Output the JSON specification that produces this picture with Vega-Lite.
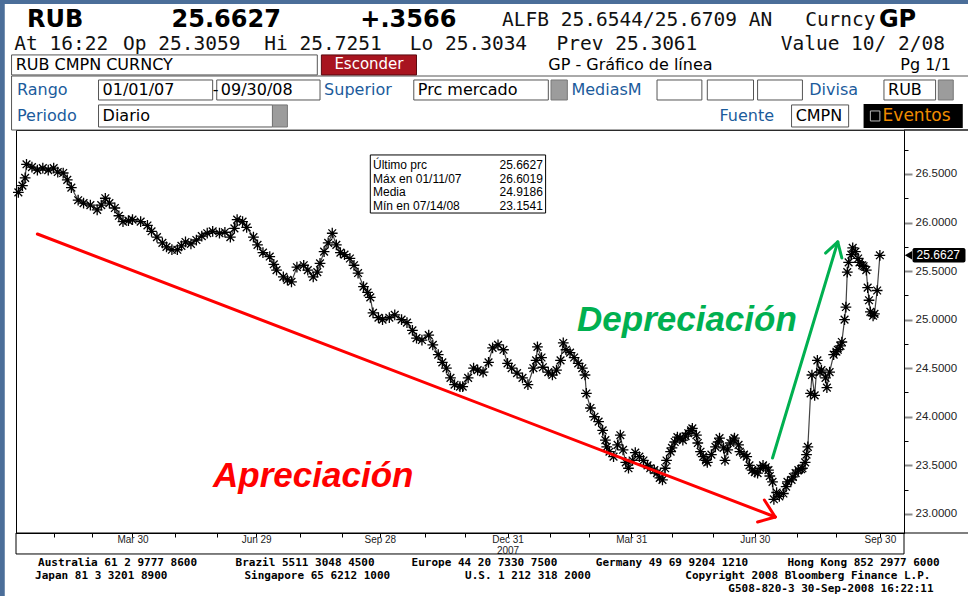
{
  "$schema": "https://vega.github.io/schema/vega-lite/v6.json",
  "width": 888,
  "height": 403,
  "autosize": {"type": "none"},
  "padding": {"left": 16, "top": 130, "right": 64, "bottom": 63},
  "background": "#ffffff",
  "config": {
    "view": {"stroke": "#000000", "strokeWidth": 1},
    "axis": {"zindex": 1}
  },
  "encoding": {
    "x": {
      "field": "d", "type": "temporal",
      "scale": {"type": "utc", "domain": [
        {"year": 2007, "month": 1, "date": 3, "hours": 6, "minutes": 30, "utc": true},
        {"year": 2008, "month": 10, "date": 17, "hours": 18, "utc": true}]},
      "axis": {
        "title": null,
        "values": [
          {"year": 2007, "month": 1, "date": 31, "utc": true},
          {"year": 2007, "month": 2, "date": 28, "utc": true},
          {"year": 2007, "month": 3, "date": 30, "utc": true},
          {"year": 2007, "month": 4, "date": 30, "utc": true},
          {"year": 2007, "month": 5, "date": 31, "utc": true},
          {"year": 2007, "month": 6, "date": 29, "utc": true},
          {"year": 2007, "month": 7, "date": 31, "utc": true},
          {"year": 2007, "month": 8, "date": 31, "utc": true},
          {"year": 2007, "month": 9, "date": 28, "utc": true},
          {"year": 2007, "month": 10, "date": 31, "utc": true},
          {"year": 2007, "month": 11, "date": 30, "utc": true},
          {"year": 2007, "month": 12, "date": 31, "utc": true},
          {"year": 2008, "month": 1, "date": 31, "utc": true},
          {"year": 2008, "month": 2, "date": 29, "utc": true},
          {"year": 2008, "month": 3, "date": 31, "utc": true},
          {"year": 2008, "month": 4, "date": 30, "utc": true},
          {"year": 2008, "month": 5, "date": 30, "utc": true},
          {"year": 2008, "month": 6, "date": 30, "utc": true},
          {"year": 2008, "month": 7, "date": 31, "utc": true},
          {"year": 2008, "month": 8, "date": 29, "utc": true},
          {"year": 2008, "month": 9, "date": 30, "utc": true}
        ],
        "labelExpr": "utcFormat(datum.value,'%m%d')=='1231' ? ['Dec 31','2007'] : (indexof(['0330','0629','0928','0331','0630','0930'], utcFormat(datum.value,'%m%d')) >= 0 ? utcFormat(datum.value,'%b %d') : '')",
        "tickSize": 4, "tickColor": "#000000", "tickWidth": 1,
        "domainColor": "#000000", "domainWidth": 1,
        "labelFont": "Liberation Sans", "labelFontSize": 10, "labelColor": "#222222",
        "labelPadding": -3, "labelOverlap": false, "labelFlush": false, "labelBound": false,
        "labelBaseline": "top", "labelLineHeight": 11.3, "grid": false
      }
    },
    "y": {
      "field": "v", "type": "quantitative",
      "scale": {"domain": [22.803, 26.953], "zero": false, "nice": false},
      "axis": {
        "title": null, "orient": "right",
        "values": [23, 23.25, 23.5, 23.75, 24, 24.25, 24.5, 24.75, 25, 25.25, 25.5, 25.75, 26, 26.25, 26.5, 26.75],
        "labelExpr": "datum.value*2 == round(datum.value*2) ? format(datum.value, '.4f') : ''",
        "tickSize": {"condition": {"test": "datum.value*2 != round(datum.value*2)", "value": 4}, "value": 8},
        "tickColor": {"condition": {"test": "datum.value*2 != round(datum.value*2)", "value": "#000000"}, "value": "#8a8a8a"},
        "tickWidth": {"condition": {"test": "datum.value*2 != round(datum.value*2)", "value": 1}, "value": 2},
        "domainColor": "#000000", "domainWidth": 1,
        "labelFont": "Liberation Sans", "labelFontSize": 11.5, "labelColor": "#222222",
        "labelPadding": 3, "labelOverlap": false, "labelFlush": false, "labelBound": false, "grid": false
      }
    }
  },
  "layer": [
    {
      "data": {"values": [
        {"d": "2006-11-01", "d2": "2006-12-26", "v": 31, "v2": 20},
        {"d": "2006-11-01", "d2": "2009-02-01", "v": 31, "v2": 28.251}
      ], "format": {"parse": {"d": "date", "d2": "date"}}},
      "mark": {"type": "rect", "color": "#4b6e99"},
      "encoding": {"x2": {"field": "d2"}, "y2": {"field": "v2"}}
    },
    {
      "data": {"values": [
        {"d": "2006-12-31", "d2": "2009-01-31", "v": 27.509, "v2": 26.953},
        {"d": "2006-12-31", "d2": "2007-08-13", "v": 27.726, "v2": 27.52},
        {"d": "2007-03-05", "d2": "2007-05-28", "v": 27.468, "v2": 27.262},
        {"d": "2007-05-31", "d2": "2007-08-15", "v": 27.468, "v2": 27.262},
        {"d": "2007-10-23", "d2": "2008-01-30", "v": 27.468, "v2": 27.262},
        {"d": "2008-04-19", "d2": "2008-05-22", "v": 27.468, "v2": 27.262},
        {"d": "2008-05-26", "d2": "2008-06-29", "v": 27.468, "v2": 27.262},
        {"d": "2008-07-02", "d2": "2008-08-04", "v": 27.468, "v2": 27.262},
        {"d": "2008-10-03", "d2": "2008-11-10", "v": 27.468, "v2": 27.262},
        {"d": "2007-03-05", "d2": "2007-07-11", "v": 27.211, "v2": 26.984},
        {"d": "2008-07-27", "d2": "2008-09-07", "v": 27.211, "v2": 26.984}
      ], "format": {"parse": {"d": "date", "d2": "date"}}},
      "mark": {"type": "rect", "fill": "#ffffff", "stroke": "#555555", "strokeWidth": 1},
      "encoding": {"x2": {"field": "d2"}, "y2": {"field": "v2"}}
    },
    {
      "data": {"values": [
        {"d": "2008-02-01", "d2": "2008-02-13", "v": 27.468, "v2": 27.262},
        {"d": "2008-11-12", "d2": "2008-11-23", "v": 27.468, "v2": 27.262},
        {"d": "2007-07-11", "d2": "2007-07-22", "v": 27.211, "v2": 26.984}
      ], "format": {"parse": {"d": "date", "d2": "date"}}},
      "mark": {"type": "rect", "fill": "#9c9c9c", "stroke": "#777777", "strokeWidth": 1},
      "encoding": {"x2": {"field": "d2"}, "y2": {"field": "v2"}}
    },
    {
      "data": {"values": [
        {"d": "2007-08-16", "d2": "2007-10-25", "v": 27.726, "v2": 27.52}
      ], "format": {"parse": {"d": "date", "d2": "date"}}},
      "mark": {"type": "rect", "fill": "#a8141f", "stroke": "#5a0a10", "strokeWidth": 1},
      "encoding": {"x2": {"field": "d2"}, "y2": {"field": "v2"}}
    },
    {
      "data": {"values": [
        {"d": "2008-09-18", "d2": "2008-11-30", "v": 27.221, "v2": 26.974}
      ], "format": {"parse": {"d": "date", "d2": "date"}}},
      "mark": {"type": "rect", "fill": "#000000"},
      "encoding": {"x2": {"field": "d2"}, "y2": {"field": "v2"}}
    },
    {
      "data": {"values": [
        {"d": "2008-09-23", "d2": "2008-09-30", "v": 27.149, "v2": 27.046}
      ], "format": {"parse": {"d": "date", "d2": "date"}}},
      "mark": {"type": "rect", "filled": false, "color": "#bbbbbb", "strokeWidth": 1},
      "encoding": {"x2": {"field": "d2"}, "y2": {"field": "v2"}}
    },
    {
      "data": {"values": [
        {"d": "2007-02-01", "v": 28.086, "t": "RUB"},
        {"d": "2007-06-07", "v": 28.086, "t": "25.6627"},
        {"d": "2007-10-19", "v": 28.086, "t": "+.3566"},
        {"d": "2008-10-13", "v": 28.086, "t": "GP"}
      ], "format": {"parse": {"d": "date"}}},
      "mark": {"type": "text", "font": "DejaVu Sans", "fontWeight": "bold", "fontSize": 24, "align": "center", "baseline": "middle", "color": "#000000"},
      "encoding": {"text": {"field": "t"}}
    },
    {
      "data": {"values": [
        {"d": "2007-12-27", "v": 28.086, "t": "ALFB 25.6544/25.6709 AN"},
        {"d": "2008-08-06", "v": 28.086, "t": "Curncy"},
        {"d": "2007-01-02", "v": 27.839, "t": "At 16:22"},
        {"d": "2007-03-23", "v": 27.839, "t": "Op 25.3059"},
        {"d": "2007-07-05", "v": 27.839, "t": "Hi 25.7251"},
        {"d": "2007-10-20", "v": 27.839, "t": "Lo 25.3034"},
        {"d": "2008-02-05", "v": 27.839, "t": "Prev 25.3061"},
        {"d": "2008-07-19", "v": 27.839, "t": "Value 10/ 2/08"}
      ], "format": {"parse": {"d": "date"}}},
      "mark": {"type": "text", "font": "DejaVu Sans Mono", "fontSize": 19.5, "align": "left", "baseline": "middle", "color": "#111111"},
      "encoding": {"text": {"field": "t"}}
    },
    {
      "data": {"values": [
        {"d": "2007-01-03", "v": 27.623, "t": "RUB CMPN CURNCY"},
        {"d": "2008-01-30", "v": 27.623, "t": "GP - Gráfico de línea"},
        {"d": "2008-10-15", "v": 27.623, "t": "Pg 1/1"},
        {"d": "2007-03-08", "v": 27.365, "t": "01/01/07"},
        {"d": "2007-05-28", "v": 27.365, "t": "-"},
        {"d": "2007-06-03", "v": 27.365, "t": "09/30/08"},
        {"d": "2007-10-26", "v": 27.365, "t": "Prc mercado"},
        {"d": "2008-10-06", "v": 27.365, "t": "RUB"},
        {"d": "2007-03-08", "v": 27.097, "t": "Diario"},
        {"d": "2008-07-30", "v": 27.097, "t": "CMPN"}
      ], "format": {"parse": {"d": "date"}}},
      "mark": {"type": "text", "font": "DejaVu Sans", "fontSize": 16, "align": "left", "baseline": "middle", "color": "#000000"},
      "encoding": {"text": {"field": "t"}}
    },
    {
      "data": {"values": [
        {"d": "2007-01-04", "v": 27.365, "t": "Rango"},
        {"d": "2007-08-18", "v": 27.365, "t": "Superior"},
        {"d": "2008-02-16", "v": 27.365, "t": "MediasM"},
        {"d": "2008-08-09", "v": 27.365, "t": "Divisa"},
        {"d": "2007-01-04", "v": 27.097, "t": "Periodo"},
        {"d": "2008-06-04", "v": 27.097, "t": "Fuente"}
      ], "format": {"parse": {"d": "date"}}},
      "mark": {"type": "text", "font": "DejaVu Sans", "fontSize": 16, "align": "left", "baseline": "middle", "color": "#1b5b9c"},
      "encoding": {"text": {"field": "t"}}
    },
    {
      "data": {"values": [
        {"d": "2007-09-20", "v": 27.63, "t": "Esconder"}
      ], "format": {"parse": {"d": "date"}}},
      "mark": {"type": "text", "font": "DejaVu Sans", "fontSize": 15, "align": "center", "baseline": "middle", "color": "#ffffff"},
      "encoding": {"text": {"field": "t"}}
    },
    {
      "data": {"values": [
        {"d": "2008-10-02", "v": 27.097, "t": "Eventos"}
      ], "format": {"parse": {"d": "date"}}},
      "mark": {"type": "text", "font": "DejaVu Sans", "fontSize": 17, "align": "left", "baseline": "middle", "color": "#f08c00"},
      "encoding": {"text": {"field": "t"}}
    },
    {
      "data": {"values": [
        {"d": "2007-09-21", "d2": "2008-01-28", "v": 26.696, "v2": 26.098}
      ], "format": {"parse": {"d": "date", "d2": "date"}}},
      "mark": {"type": "rect", "fill": "#ffffff", "stroke": "#000000", "strokeWidth": 1},
      "encoding": {"x2": {"field": "d2"}, "y2": {"field": "v2"}}
    },
    {
      "data": {"values": [
        {"d": "2007-09-23", "v": 26.593, "t": "Último prc"},
        {"d": "2007-09-23", "v": 26.449, "t": "Máx en  01/11/07"},
        {"d": "2007-09-23", "v": 26.315, "t": "Media"},
        {"d": "2007-09-23", "v": 26.17, "t": "Mín en  07/14/08"}
      ], "format": {"parse": {"d": "date"}}},
      "mark": {"type": "text", "font": "Liberation Sans", "fontSize": 12, "align": "left", "baseline": "middle", "color": "#000000"},
      "encoding": {"text": {"field": "t"}}
    },
    {
      "data": {"values": [
        {"d": "2008-01-26", "v": 26.593, "t": "25.6627"},
        {"d": "2008-01-26", "v": 26.449, "t": "26.6019"},
        {"d": "2008-01-26", "v": 26.315, "t": "24.9186"},
        {"d": "2008-01-26", "v": 26.17, "t": "23.1541"}
      ], "format": {"parse": {"d": "date"}}},
      "mark": {"type": "text", "font": "Liberation Sans", "fontSize": 12, "align": "right", "baseline": "middle", "color": "#000000"},
      "encoding": {"text": {"field": "t"}}
    },
    {
      "data": {"name": "rub"},
      "mark": {"type": "line", "color": "#444444", "strokeWidth": 1.2}
    },
    {
      "data": {"name": "rub"},
      "mark": {"type": "point", "shape": "M-1,0H1M0,-1V1M-0.72,-0.72L0.72,0.72M-0.72,0.72L0.72,-0.72", "filled": false, "color": "#000000", "strokeWidth": 1.3, "size": 115, "opacity": 1}
    },
    {
      "data": {"values": [
        {"d": "2007-01-19", "v": 25.882, "d2": "2008-07-15", "v2": 22.968},
        {"d": "2008-07-02", "v": 22.916, "d2": "2008-07-15", "v2": 22.968},
        {"d": "2008-07-07", "v": 23.143, "d2": "2008-07-15", "v2": 22.968}
      ], "format": {"parse": {"d": "date", "d2": "date"}}},
      "mark": {"type": "rule", "color": "#ff0000", "strokeWidth": 3, "strokeCap": "round"},
      "encoding": {"x2": {"field": "d2"}, "y2": {"field": "v2"}}
    },
    {
      "data": {"values": [
        {"d": "2008-07-13", "v": 23.575, "d2": "2008-08-30", "v2": 25.8},
        {"d": "2008-09-02", "v": 25.635, "d2": "2008-08-30", "v2": 25.8},
        {"d": "2008-08-21", "v": 25.686, "d2": "2008-08-30", "v2": 25.8}
      ], "format": {"parse": {"d": "date", "d2": "date"}}},
      "mark": {"type": "rule", "color": "#00b050", "strokeWidth": 3, "strokeCap": "round"},
      "encoding": {"x2": {"field": "d2"}, "y2": {"field": "v2"}}
    },
    {
      "data": {"values": [
        {"d": "2007-08-10", "v": 23.39, "t": "Apreciación"}
      ], "format": {"parse": {"d": "date"}}},
      "mark": {"type": "text", "font": "Liberation Sans", "fontSize": 35, "fontWeight": "bold", "fontStyle": "italic", "align": "center", "baseline": "middle", "color": "#ff0000"},
      "encoding": {"text": {"field": "t"}}
    },
    {
      "data": {"values": [
        {"d": "2008-05-11", "v": 25.0, "t": "Depreciación"}
      ], "format": {"parse": {"d": "date"}}},
      "mark": {"type": "text", "font": "Liberation Sans", "fontSize": 35, "fontWeight": "bold", "fontStyle": "italic", "align": "center", "baseline": "middle", "color": "#00b050"},
      "encoding": {"text": {"field": "t"}}
    },
    {
      "data": {"values": [
        {"d": "2008-10-24", "d2": "2008-12-02", "v": 25.738, "v2": 25.588}
      ], "format": {"parse": {"d": "date", "d2": "date"}}},
      "mark": {"type": "rect", "fill": "#000000", "cornerRadius": 2},
      "encoding": {"x2": {"field": "d2"}, "y2": {"field": "v2"}}
    },
    {
      "data": {"values": [
        {"d": "2008-10-21", "v": 25.6627}
      ], "format": {"parse": {"d": "date"}}},
      "mark": {"type": "point", "shape": "triangle-left", "filled": true, "color": "#000000", "size": 70, "opacity": 1}
    },
    {
      "data": {"values": [
        {"d": "2008-11-12", "v": 25.6627, "t": "25.6627"}
      ], "format": {"parse": {"d": "date"}}},
      "mark": {"type": "text", "font": "Liberation Sans", "fontSize": 12, "align": "center", "baseline": "middle", "color": "#ffffff"},
      "encoding": {"text": {"field": "t"}}
    },
    {
      "data": {"values": [
        {"d": "2007-01-03T06:30:00Z", "d2": "2008-10-17T18:00:00Z", "v": 22.803, "v2": 22.587}
      ], "format": {"parse": {"d": "date", "d2": "date"}}},
      "mark": {"type": "rect", "filled": false, "color": "#000000", "strokeWidth": 1},
      "encoding": {"x2": {"field": "d2"}, "y2": {"field": "v2"}}
    },
    {
      "data": {"values": [
        {"d": "2008-10-17T18:00:00Z", "d2": "2009-01-31", "v": 26.953, "v2": 26.953},
        {"d": "2008-10-17T18:00:00Z", "d2": "2009-01-31", "v": 22.803, "v2": 22.803}
      ], "format": {"parse": {"d": "date", "d2": "date"}}},
      "mark": {"type": "rule", "color": "#000000", "strokeWidth": 1},
      "encoding": {"x2": {"field": "d2"}, "y2": {"field": "v2"}}
    },
    {
      "data": {"values": [
        {"d": "2007-03-19", "v": 22.494, "t": "Australia 61 2 9777 8600"},
        {"d": "2007-08-04", "v": 22.494, "t": "Brazil 5511 3048 4500"},
        {"d": "2007-12-14", "v": 22.494, "t": "Europe 44 20 7330 7500"},
        {"d": "2008-04-30", "v": 22.494, "t": "Germany 49 69 9204 1210"},
        {"d": "2008-09-18", "v": 22.494, "t": "Hong Kong 852 2977 6000"},
        {"d": "2007-03-07", "v": 22.36, "t": "Japan 81 3 3201 8900"},
        {"d": "2007-08-13", "v": 22.36, "t": "Singapore 65 6212 1000"},
        {"d": "2008-01-15", "v": 22.36, "t": "U.S. 1 212 318 2000"},
        {"d": "2008-08-08", "v": 22.36, "t": "Copyright 2008 Bloomberg Finance L.P."},
        {"d": "2008-08-25", "v": 22.226, "t": "G508-820-3 30-Sep-2008 16:22:11"}
      ], "format": {"parse": {"d": "date"}}},
      "mark": {"type": "text", "font": "DejaVu Sans Mono", "fontWeight": "bold", "fontSize": 11, "align": "center", "baseline": "middle", "color": "#000000"},
      "encoding": {"text": {"field": "t"}}
    }
  ],
  "datasets": {
    "rub": [
      {"d": "2007-01-05", "v": 26.31}, {"d": "2007-01-08", "v": 26.38}, {"d": "2007-01-10", "v": 26.46}, {"d": "2007-01-11", "v": 26.6},
      {"d": "2007-01-15", "v": 26.57}, {"d": "2007-01-19", "v": 26.54}, {"d": "2007-01-23", "v": 26.56}, {"d": "2007-01-27", "v": 26.54},
      {"d": "2007-01-31", "v": 26.56}, {"d": "2007-02-03", "v": 26.52}, {"d": "2007-02-07", "v": 26.51}, {"d": "2007-02-10", "v": 26.44},
      {"d": "2007-02-13", "v": 26.36}, {"d": "2007-02-18", "v": 26.23}, {"d": "2007-02-22", "v": 26.2}, {"d": "2007-02-27", "v": 26.18},
      {"d": "2007-03-04", "v": 26.13}, {"d": "2007-03-07", "v": 26.18}, {"d": "2007-03-10", "v": 26.25}, {"d": "2007-03-13", "v": 26.2},
      {"d": "2007-03-17", "v": 26.15}, {"d": "2007-03-20", "v": 26.07}, {"d": "2007-03-23", "v": 26.01}, {"d": "2007-03-27", "v": 26.02},
      {"d": "2007-03-30", "v": 26.03}, {"d": "2007-04-05", "v": 26.01}, {"d": "2007-04-10", "v": 25.97}, {"d": "2007-04-13", "v": 25.91},
      {"d": "2007-04-17", "v": 25.85}, {"d": "2007-04-21", "v": 25.79}, {"d": "2007-04-24", "v": 25.75}, {"d": "2007-04-28", "v": 25.72},
      {"d": "2007-05-02", "v": 25.72}, {"d": "2007-05-05", "v": 25.76}, {"d": "2007-05-08", "v": 25.8}, {"d": "2007-05-12", "v": 25.78},
      {"d": "2007-05-16", "v": 25.82}, {"d": "2007-05-20", "v": 25.86}, {"d": "2007-05-24", "v": 25.89}, {"d": "2007-05-28", "v": 25.91},
      {"d": "2007-06-02", "v": 25.89}, {"d": "2007-06-06", "v": 25.9}, {"d": "2007-06-10", "v": 25.85}, {"d": "2007-06-13", "v": 25.94},
      {"d": "2007-06-15", "v": 26.03}, {"d": "2007-06-19", "v": 26.01}, {"d": "2007-06-22", "v": 25.95}, {"d": "2007-06-27", "v": 25.85},
      {"d": "2007-06-30", "v": 25.77}, {"d": "2007-07-04", "v": 25.69}, {"d": "2007-07-09", "v": 25.65}, {"d": "2007-07-12", "v": 25.57},
      {"d": "2007-07-14", "v": 25.51}, {"d": "2007-07-19", "v": 25.44}, {"d": "2007-07-22", "v": 25.41}, {"d": "2007-07-25", "v": 25.39},
      {"d": "2007-07-29", "v": 25.54}, {"d": "2007-08-03", "v": 25.56}, {"d": "2007-08-06", "v": 25.51}, {"d": "2007-08-10", "v": 25.44},
      {"d": "2007-08-13", "v": 25.49}, {"d": "2007-08-15", "v": 25.58}, {"d": "2007-08-18", "v": 25.7}, {"d": "2007-08-21", "v": 25.79},
      {"d": "2007-08-24", "v": 25.89}, {"d": "2007-08-27", "v": 25.77}, {"d": "2007-08-30", "v": 25.69}, {"d": "2007-09-02", "v": 25.67},
      {"d": "2007-09-06", "v": 25.63}, {"d": "2007-09-09", "v": 25.56}, {"d": "2007-09-12", "v": 25.48}, {"d": "2007-09-16", "v": 25.34},
      {"d": "2007-09-19", "v": 25.28}, {"d": "2007-09-21", "v": 25.23}, {"d": "2007-09-23", "v": 25.07}, {"d": "2007-09-27", "v": 25.02},
      {"d": "2007-09-30", "v": 25.0}, {"d": "2007-10-05", "v": 25.02}, {"d": "2007-10-09", "v": 25.05}, {"d": "2007-10-14", "v": 25.0},
      {"d": "2007-10-18", "v": 24.97}, {"d": "2007-10-22", "v": 24.89}, {"d": "2007-10-25", "v": 24.81}, {"d": "2007-10-29", "v": 24.79},
      {"d": "2007-11-03", "v": 24.84}, {"d": "2007-11-06", "v": 24.74}, {"d": "2007-11-10", "v": 24.64}, {"d": "2007-11-13", "v": 24.56},
      {"d": "2007-11-16", "v": 24.5}, {"d": "2007-11-19", "v": 24.4}, {"d": "2007-11-22", "v": 24.33}, {"d": "2007-11-26", "v": 24.31},
      {"d": "2007-11-28", "v": 24.31}, {"d": "2007-12-02", "v": 24.4}, {"d": "2007-12-06", "v": 24.5}, {"d": "2007-12-09", "v": 24.48},
      {"d": "2007-12-13", "v": 24.46}, {"d": "2007-12-17", "v": 24.56}, {"d": "2007-12-20", "v": 24.71}, {"d": "2007-12-24", "v": 24.74},
      {"d": "2007-12-28", "v": 24.69}, {"d": "2007-12-31", "v": 24.55}, {"d": "2008-01-03", "v": 24.5}, {"d": "2008-01-07", "v": 24.45},
      {"d": "2008-01-11", "v": 24.4}, {"d": "2008-01-15", "v": 24.33}, {"d": "2008-01-19", "v": 24.5}, {"d": "2008-01-21", "v": 24.58},
      {"d": "2008-01-22", "v": 24.72}, {"d": "2008-01-25", "v": 24.61}, {"d": "2008-01-26", "v": 24.51}, {"d": "2008-01-30", "v": 24.46},
      {"d": "2008-02-02", "v": 24.43}, {"d": "2008-02-05", "v": 24.48}, {"d": "2008-02-08", "v": 24.58}, {"d": "2008-02-10", "v": 24.76},
      {"d": "2008-02-12", "v": 24.69}, {"d": "2008-02-15", "v": 24.66}, {"d": "2008-02-18", "v": 24.61}, {"d": "2008-02-21", "v": 24.55},
      {"d": "2008-02-24", "v": 24.5}, {"d": "2008-02-26", "v": 24.43}, {"d": "2008-02-27", "v": 24.24}, {"d": "2008-03-01", "v": 24.09},
      {"d": "2008-03-04", "v": 24.0}, {"d": "2008-03-07", "v": 23.95}, {"d": "2008-03-10", "v": 23.86}, {"d": "2008-03-12", "v": 23.76},
      {"d": "2008-03-13", "v": 23.69}, {"d": "2008-03-15", "v": 23.64}, {"d": "2008-03-18", "v": 23.59}, {"d": "2008-03-21", "v": 23.71},
      {"d": "2008-03-23", "v": 23.81}, {"d": "2008-03-25", "v": 23.66}, {"d": "2008-03-27", "v": 23.53}, {"d": "2008-03-29", "v": 23.47},
      {"d": "2008-04-01", "v": 23.55}, {"d": "2008-04-03", "v": 23.63}, {"d": "2008-04-06", "v": 23.59}, {"d": "2008-04-09", "v": 23.55},
      {"d": "2008-04-12", "v": 23.5}, {"d": "2008-04-14", "v": 23.47}, {"d": "2008-04-17", "v": 23.45}, {"d": "2008-04-19", "v": 23.42},
      {"d": "2008-04-21", "v": 23.37}, {"d": "2008-04-23", "v": 23.35}, {"d": "2008-04-25", "v": 23.47}, {"d": "2008-04-26", "v": 23.55},
      {"d": "2008-04-29", "v": 23.64}, {"d": "2008-04-30", "v": 23.68}, {"d": "2008-05-02", "v": 23.74}, {"d": "2008-05-04", "v": 23.79},
      {"d": "2008-05-06", "v": 23.78}, {"d": "2008-05-08", "v": 23.76}, {"d": "2008-05-10", "v": 23.8}, {"d": "2008-05-12", "v": 23.83},
      {"d": "2008-05-14", "v": 23.86}, {"d": "2008-05-15", "v": 23.88}, {"d": "2008-05-18", "v": 23.81}, {"d": "2008-05-19", "v": 23.73},
      {"d": "2008-05-21", "v": 23.64}, {"d": "2008-05-23", "v": 23.59}, {"d": "2008-05-25", "v": 23.55}, {"d": "2008-05-26", "v": 23.53},
      {"d": "2008-05-29", "v": 23.61}, {"d": "2008-06-01", "v": 23.69}, {"d": "2008-06-03", "v": 23.74}, {"d": "2008-06-04", "v": 23.78},
      {"d": "2008-06-07", "v": 23.68}, {"d": "2008-06-08", "v": 23.55}, {"d": "2008-06-10", "v": 23.66}, {"d": "2008-06-12", "v": 23.73},
      {"d": "2008-06-14", "v": 23.76}, {"d": "2008-06-15", "v": 23.78}, {"d": "2008-06-18", "v": 23.71}, {"d": "2008-06-19", "v": 23.64},
      {"d": "2008-06-22", "v": 23.61}, {"d": "2008-06-24", "v": 23.59}, {"d": "2008-06-26", "v": 23.5}, {"d": "2008-06-28", "v": 23.45},
      {"d": "2008-06-30", "v": 23.43}, {"d": "2008-07-02", "v": 23.42}, {"d": "2008-07-04", "v": 23.47}, {"d": "2008-07-06", "v": 23.5},
      {"d": "2008-07-08", "v": 23.48}, {"d": "2008-07-10", "v": 23.45}, {"d": "2008-07-11", "v": 23.39}, {"d": "2008-07-13", "v": 23.33},
      {"d": "2008-07-14", "v": 23.15}, {"d": "2008-07-16", "v": 23.22}, {"d": "2008-07-18", "v": 23.18}, {"d": "2008-07-21", "v": 23.21},
      {"d": "2008-07-23", "v": 23.28}, {"d": "2008-07-24", "v": 23.33}, {"d": "2008-07-27", "v": 23.35}, {"d": "2008-07-28", "v": 23.38},
      {"d": "2008-07-30", "v": 23.42}, {"d": "2008-08-01", "v": 23.45}, {"d": "2008-08-03", "v": 23.46}, {"d": "2008-08-04", "v": 23.47},
      {"d": "2008-08-06", "v": 23.53}, {"d": "2008-08-07", "v": 23.61}, {"d": "2008-08-08", "v": 23.69}, {"d": "2008-08-10", "v": 24.24},
      {"d": "2008-08-11", "v": 24.43}, {"d": "2008-08-13", "v": 24.22}, {"d": "2008-08-15", "v": 24.58}, {"d": "2008-08-17", "v": 24.46},
      {"d": "2008-08-18", "v": 24.48}, {"d": "2008-08-21", "v": 24.4}, {"d": "2008-08-22", "v": 24.3}, {"d": "2008-08-24", "v": 24.46},
      {"d": "2008-08-27", "v": 24.64}, {"d": "2008-08-29", "v": 24.67}, {"d": "2008-08-30", "v": 24.69}, {"d": "2008-09-01", "v": 24.73},
      {"d": "2008-09-02", "v": 24.77}, {"d": "2008-09-04", "v": 25.0}, {"d": "2008-09-05", "v": 25.13}, {"d": "2008-09-06", "v": 25.49},
      {"d": "2008-09-07", "v": 25.59}, {"d": "2008-09-09", "v": 25.67}, {"d": "2008-09-10", "v": 25.74}, {"d": "2008-09-12", "v": 25.7},
      {"d": "2008-09-14", "v": 25.63}, {"d": "2008-09-15", "v": 25.59}, {"d": "2008-09-17", "v": 25.56}, {"d": "2008-09-18", "v": 25.55},
      {"d": "2008-09-20", "v": 25.51}, {"d": "2008-09-21", "v": 25.33}, {"d": "2008-09-22", "v": 25.2}, {"d": "2008-09-23", "v": 25.08},
      {"d": "2008-09-25", "v": 25.04}, {"d": "2008-09-26", "v": 25.06}, {"d": "2008-09-28", "v": 25.3}, {"d": "2008-09-30", "v": 25.6627}
    ]
  }
}
